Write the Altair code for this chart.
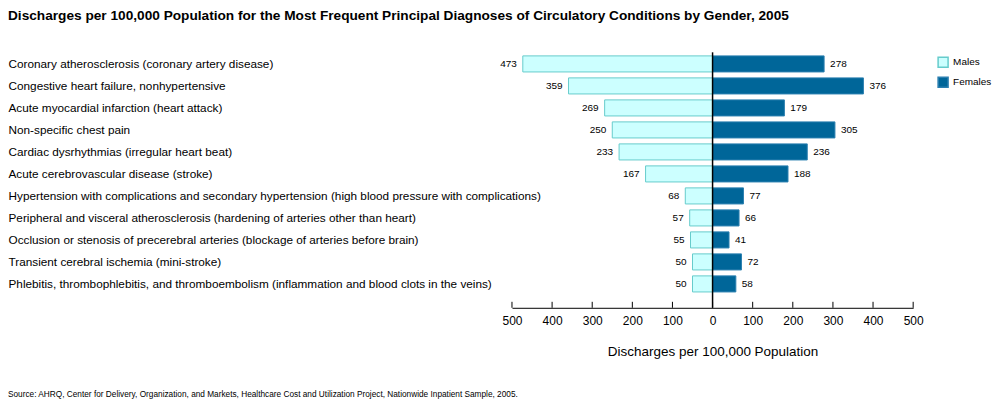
import altair as alt
import pandas as pd

conditions = [
    "Coronary atherosclerosis (coronary artery disease)",
    "Congestive heart failure, nonhypertensive",
    "Acute myocardial infarction (heart attack)",
    "Non-specific chest pain",
    "Cardiac dysrhythmias (irregular heart beat)",
    "Acute cerebrovascular disease (stroke)",
    "Hypertension with complications and secondary hypertension (high blood pressure with complications)",
    "Peripheral and visceral atherosclerosis (hardening of arteries other than heart)",
    "Occlusion or stenosis of precerebral arteries (blockage of arteries before brain)",
    "Transient cerebral ischemia (mini-stroke)",
    "Phlebitis, thrombophlebitis, and thromboembolism (inflammation and blood clots in the veins)",
]
males = [473, 359, 269, 250, 233, 167, 68, 57, 55, 50, 50]
females = [278, 376, 179, 305, 236, 188, 77, 66, 41, 72, 58]
genders = ["Males", "Females"]
tick_values = [-500, -400, -300, -200, -100, 0, 100, 200, 300, 400, 500]

title = ("Discharges per 100,000 Population for the Most Frequent Principal "
         "Diagnoses of Circulatory Conditions by Gender, 2005")
source = ("Source:  AHRQ, Center for Delivery, Organization, and Markets, Healthcare Cost "
          "and Utilization Project, Nationwide Inpatient Sample, 2005.")

rows = []
for c, m, f in zip(conditions, males, females):
    rows.append({"condition": c, "gender": "Males", "value": m, "signed": -m})
    rows.append({"condition": c, "gender": "Females", "value": f, "signed": f})
df = pd.DataFrame(rows)

W = 402
H = 263
FONT = "Liberation Sans"
LPAD = 505

xscale = alt.Scale(domain=[-500, 500], nice=False)
yscale = alt.Scale(domain=conditions, paddingInner=0.27, paddingOuter=0.6, align=0.4)

legend = alt.Legend(title=None, orient="none", legendX=426, legendY=11,
                    symbolType="square", symbolSize=100,
                    labelFontSize=10, rowPadding=4, labelColor="black")

base = alt.Chart(df)

bars = base.mark_bar(strokeWidth=1).encode(
    x=alt.X("signed:Q", scale=xscale, stack=None,
            axis=alt.Axis(values=tick_values, labelExpr="abs(datum.value)",
                          title="Discharges per 100,000 Population",
                          grid=False, ticks=False, tickSize=0, domainColor="black",
                          labelFlush=False, labelOverlap=False,
                          labelFontSize=12, labelPadding=8, labelColor="black",
                          titleFontSize=13.5, titleFontWeight="normal", titlePadding=18,
                          titleColor="black")),
    y=alt.Y("condition:N", scale=yscale, sort=conditions,
            axis=alt.Axis(title=None, ticks=False, tickSize=0, domain=False,
                          labelAlign="left", labelPadding=LPAD, labelLimit=700,
                          labelFontSize=11.8, labelColor="black")),
    fill=alt.Fill("gender:N", scale=alt.Scale(domain=genders, range=["#CCFFFF", "#006699"]),
                  legend=legend),
    stroke=alt.Stroke("gender:N", scale=alt.Scale(domain=genders, range=["#66CCCC", "#2A7FB0"]),
                      legend=legend),
)

male_text = base.transform_filter(alt.datum.gender == "Males").mark_text(
    align="right", dx=-6, fontSize=10, color="black").encode(
    x=alt.X("signed:Q", scale=xscale),
    y=alt.Y("condition:N", scale=yscale, sort=conditions),
    text="value:Q",
)
female_text = base.transform_filter(alt.datum.gender == "Females").mark_text(
    align="left", dx=6, fontSize=10, color="black").encode(
    x=alt.X("signed:Q", scale=xscale),
    y=alt.Y("condition:N", scale=yscale, sort=conditions),
    text="value:Q",
)

ticks_df = pd.DataFrame({"t": tick_values})
ticks = alt.Chart(ticks_df).mark_rule(color="black", strokeWidth=1).encode(
    x=alt.X("t:Q", scale=xscale),
    y=alt.value(H - 6),
    y2=alt.value(H),
)

zero = alt.Chart(pd.DataFrame({"z": [0]})).mark_rule(color="black", strokeWidth=1.5).encode(
    x=alt.X("z:Q", scale=xscale),
    y=alt.value(7),
    y2=alt.value(H),
)

src = alt.Chart(pd.DataFrame({"s": [source]})).mark_text(
    align="left", baseline="middle", fontSize=8.3, color="black").encode(
    x=alt.value(-LPAD),
    y=alt.value(350),
    text="s:N",
)

chart = alt.layer(bars, ticks, zero, male_text, female_text, src).properties(
    width=W, height=H, padding=0,
    title=alt.TitleParams(title, anchor="start", fontSize=13.7, fontWeight="bold",
                          offset=23, color="black", font=FONT),
).configure(font=FONT).configure_view(stroke=None)

chart.save("out.html", embed_options={"renderer": "svg", "actions": False})
